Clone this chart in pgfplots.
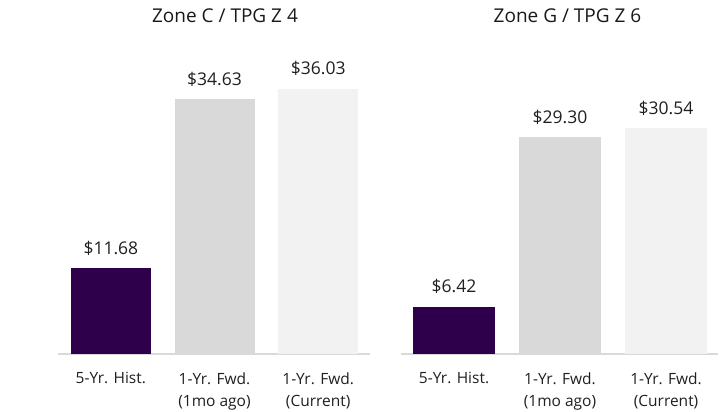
\documentclass[border=0pt]{standalone}
\usepackage{fontspec}
\setmainfont{Open Sans}
\usepackage{pgfplots}
\pgfplotsset{compat=1.18}
\definecolor{darkpurple}{HTML}{2E004B}
\definecolor{midgray}{HTML}{D9D9D9}
\definecolor{lightgrayb}{HTML}{F2F2F2}
\definecolor{axisgray}{HTML}{D9D9D9}
\pgfplotsset{panel/.style={
  scale only axis, height=294.4pt, ymin=0,
  axis y line=none, axis x line*=bottom,
  x axis line style={draw=axisgray, line width=1.5pt, -},
  xtick={0,1,2},
  xticklabels={5-Yr. Hist., 1-Yr. Fwd.\\(1mo ago), 1-Yr. Fwd.\\(Current)},
  xticklabel style={align=center, font=\fontsize{15.5}{22}\selectfont, text=black!88, anchor=north, yshift=-15pt},
  major tick length=0pt, tick style={draw=none},
  ybar, bar shift=0pt,
  nodes near coords={\$\pgfmathprintnumber[fixed,fixed zerofill,precision=2]{\pgfplotspointmeta}},
  every node near coord/.append style={font=\fontsize{17.5}{20}\selectfont, text=black!88, anchor=base, yshift=14pt},
  /pgf/number format/assume math mode=true,
  title style={font=\fontsize{19}{22}\selectfont, text=black!90, anchor=center, at={(0.5,1)}, yshift=37.5pt},
  clip=false,
}}
\begin{document}
\begin{tikzpicture}[x=1pt,y=1pt]
\path[use as bounding box] (0,0) rectangle (721,412);
\begin{axis}[panel, at={(58pt,58pt)}, anchor=south west, width=312pt,
  xmin=-0.51, xmax=2.5, ymax=40, bar width=80pt,
  title={Zone C / TPG Z 4}, title style={xshift=11pt}]
\addplot[fill=darkpurple, draw=none] coordinates {(0,11.68)};
\addplot[fill=midgray, draw=none] coordinates {(1,34.63)};
\addplot[fill=lightgrayb, draw=none] coordinates {(2,36.03)};
\end{axis}
\begin{axis}[panel, at={(401pt,58pt)}, anchor=south west, width=317pt,
  xmin=-0.5, xmax=2.49, ymax=39.8, bar width=82pt,
  title={Zone G / TPG Z 6}, title style={xshift=8pt}]
\addplot[fill=darkpurple, draw=none] coordinates {(0,6.42)};
\addplot[fill=midgray, draw=none] coordinates {(1,29.30)};
\addplot[fill=lightgrayb, draw=none] coordinates {(2,30.54)};
\end{axis}
\end{tikzpicture}
\end{document}
